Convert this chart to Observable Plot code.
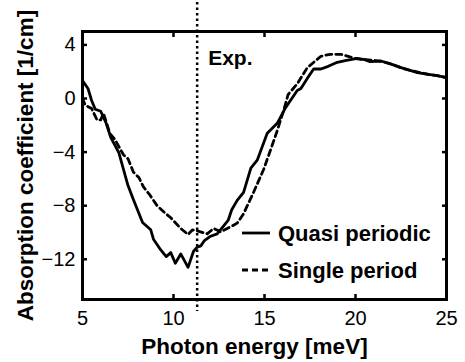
<!DOCTYPE html>
<html><head><meta charset="utf-8">
<script src="https://cdn.jsdelivr.net/npm/d3@7"></script>
<script src="https://cdn.jsdelivr.net/npm/@observablehq/plot@0.6"></script>
<style>
body{margin:0;background:#fff;}
#chart{position:relative;width:465px;height:362px;font-family:"Liberation Sans",Arial,sans-serif;}
#legend{position:absolute;left:0;top:0;pointer-events:none;}
</style>
</head><body>
<div id="chart"></div>
<script>
// Data
const quasiX = [5, 5.3, 5.5, 5.7, 6.0, 6.3, 6.55, 7.0, 7.5, 7.8, 8.3, 8.75, 8.9, 9.3, 9.6, 9.85, 10.1, 10.4, 10.8, 11.1, 11.3, 11.5, 11.7, 12.0, 12.4, 13.0, 13.2, 13.5, 13.85, 14.25, 14.6, 15.15, 15.7, 16.15, 16.8, 17.0, 17.35, 17.7, 18.1, 18.5, 19.0, 19.5, 20.1, 20.5, 20.8, 21.4, 22.0, 22.5, 23.0, 23.4, 24.1, 24.5, 25.0];
const quasiY = [1.33, 0.75, -0.15, -0.8, -0.95, -1.85, -2.9, -4.05, -6.5, -7.55, -9.25, -9.8, -10.5, -11.3, -11.8, -11.5, -12.3, -11.6, -12.6, -11.4, -11.1, -11.0, -10.6, -10.3, -10.1, -9.1, -8.3, -7.6, -7.0, -5.2, -4.6, -2.6, -1.85, -0.7, 0.6, 0.75, 1.5, 2.2, 2.2, 2.4, 2.7, 2.85, 3.0, 2.9, 2.75, 2.8, 2.55, 2.3, 2.1, 1.93, 1.78, 1.7, 1.55];
const singleX = [5, 5.15, 5.5, 5.8, 6.0, 6.15, 6.5, 6.8, 7.25, 7.5, 7.8, 8.1, 8.35, 8.7, 9.1, 9.5, 9.85, 10.4, 10.8, 11.05, 11.35, 11.85, 12.2, 12.6, 13.1, 13.5, 13.85, 14.4, 14.95, 15.33, 15.7, 16.05, 16.3, 16.8, 17.35, 18.1, 18.6, 19.2, 19.6, 20.1, 20.5, 21.0, 21.5, 22.0, 22.5, 23.0, 23.5, 24.0, 24.5, 25.0];
const singleY = [0, -0.5, -0.75, -1.6, -1.6, -1.1, -2.6, -3.1, -4.2, -4.5, -5.5, -5.9, -6.6, -7.2, -8.0, -8.5, -8.9, -9.7, -10.15, -9.8, -9.9, -10.1, -9.7, -9.95, -9.6, -9.3, -8.6, -7.0, -5.3, -3.85, -2.4, -0.9, 0.3, 1.1, 2.3, 3.15, 3.3, 3.3, 3.15, 2.95, 2.9, 2.85, 2.75, 2.55, 2.3, 2.1, 1.95, 1.8, 1.7, 1.55];
const expX = 11.3;
const xTicks = [5, 10, 15, 20, 25];
const yTicks = [-12, -8, -4, 0, 4];
const seriesNames = ["Quasi periodic", "Single period"];
const xLabel = "Photon energy [meV]";
const yLabel = "Absorption coefficient [1/cm]";
const expLabel = "Exp.";

const quasi = quasiX.map((x, i) => ({x, y: quasiY[i]}));
const single = singleX.map((x, i) => ({x, y: singleY[i]}));
const font = '"Liberation Sans", Arial, sans-serif';

const plot = Plot.plot({
  width: 465, height: 362,
  marginLeft: 82, marginRight: 19, marginTop: 31, marginBottom: 63,
  style: {fontFamily: font, fontSize: "20px", background: "white", color: "black", overflow: "visible"},
  x: {domain: [5, 25], label: null},
  y: {domain: [-15, 5], label: null},
  marks: [
    Plot.line(quasi, {x: "x", y: "y", stroke: "black", strokeWidth: 2.8, curve: "linear"}),
    Plot.line(single, {x: "x", y: "y", stroke: "black", strokeWidth: 2.8, strokeDasharray: "6,4"}),
    Plot.ruleX([expX], {stroke: "black", strokeWidth: 2.5, strokeDasharray: "2.5,3", insetTop: -29, insetBottom: -12}),
    Plot.text([expLabel], {x: () => expX, frameAnchor: "top", dx: 11, dy: 27, textAnchor: "start", lineAnchor: "middle", fontWeight: "bold", fontSize: 21, text: d => d}),
    Plot.axisX({ticks: xTicks, tickSize: 0, tickPadding: 11, fontSize: 20}),
    Plot.axisX({ticks: xTicks, tickSize: -5, tickFormat: () => "", strokeWidth: 2.5}),
    Plot.axisX({anchor: "top", ticks: xTicks, tickSize: -5, tickFormat: () => "", strokeWidth: 2.5}),
    Plot.axisY({ticks: yTicks, tickSize: 0, tickPadding: 7, fontSize: 20}),
    Plot.axisY({ticks: yTicks, tickSize: -5, tickFormat: () => "", strokeWidth: 2.5}),
    Plot.axisY({anchor: "right", ticks: yTicks, tickSize: -5, tickFormat: () => "", strokeWidth: 2.5}),
    Plot.frame({stroke: "black", strokeWidth: 3}),
    Plot.text([xLabel], {frameAnchor: "bottom", dy: 47, dx: -10, textAnchor: "middle", lineAnchor: "middle", fontWeight: "bold", fontSize: 22.5, text: d => d}),
    Plot.text([yLabel], {frameAnchor: "left", rotate: -90, dx: -57, textAnchor: "middle", lineAnchor: "middle", fontWeight: "bold", fontSize: 22.5, text: d => d})
  ]
});
const chart = document.getElementById("chart");
chart.appendChild(plot);

// Legend (no box), drawn as an overlay
const svgNS = "http://www.w3.org/2000/svg";
const leg = document.createElementNS(svgNS, "svg");
leg.setAttribute("id", "legend");
leg.setAttribute("width", 465);
leg.setAttribute("height", 362);
const dashes = [null, "6,4"];
seriesNames.forEach((name, i) => {
  const cy = 233 + i * 37;
  const ln = document.createElementNS(svgNS, "line");
  ln.setAttribute("x1", 242); ln.setAttribute("x2", 270);
  ln.setAttribute("y1", cy); ln.setAttribute("y2", cy);
  ln.setAttribute("stroke", "black"); ln.setAttribute("stroke-width", 2.8);
  if (dashes[i]) ln.setAttribute("stroke-dasharray", dashes[i]);
  leg.appendChild(ln);
  const t = document.createElementNS(svgNS, "text");
  t.setAttribute("x", 278); t.setAttribute("y", cy + 8);
  t.setAttribute("font-family", font); t.setAttribute("font-size", 22);
  t.setAttribute("font-weight", "bold"); t.setAttribute("fill", "black");
  t.textContent = name;
  leg.appendChild(t);
});
chart.appendChild(leg);
</script>
</body></html>
